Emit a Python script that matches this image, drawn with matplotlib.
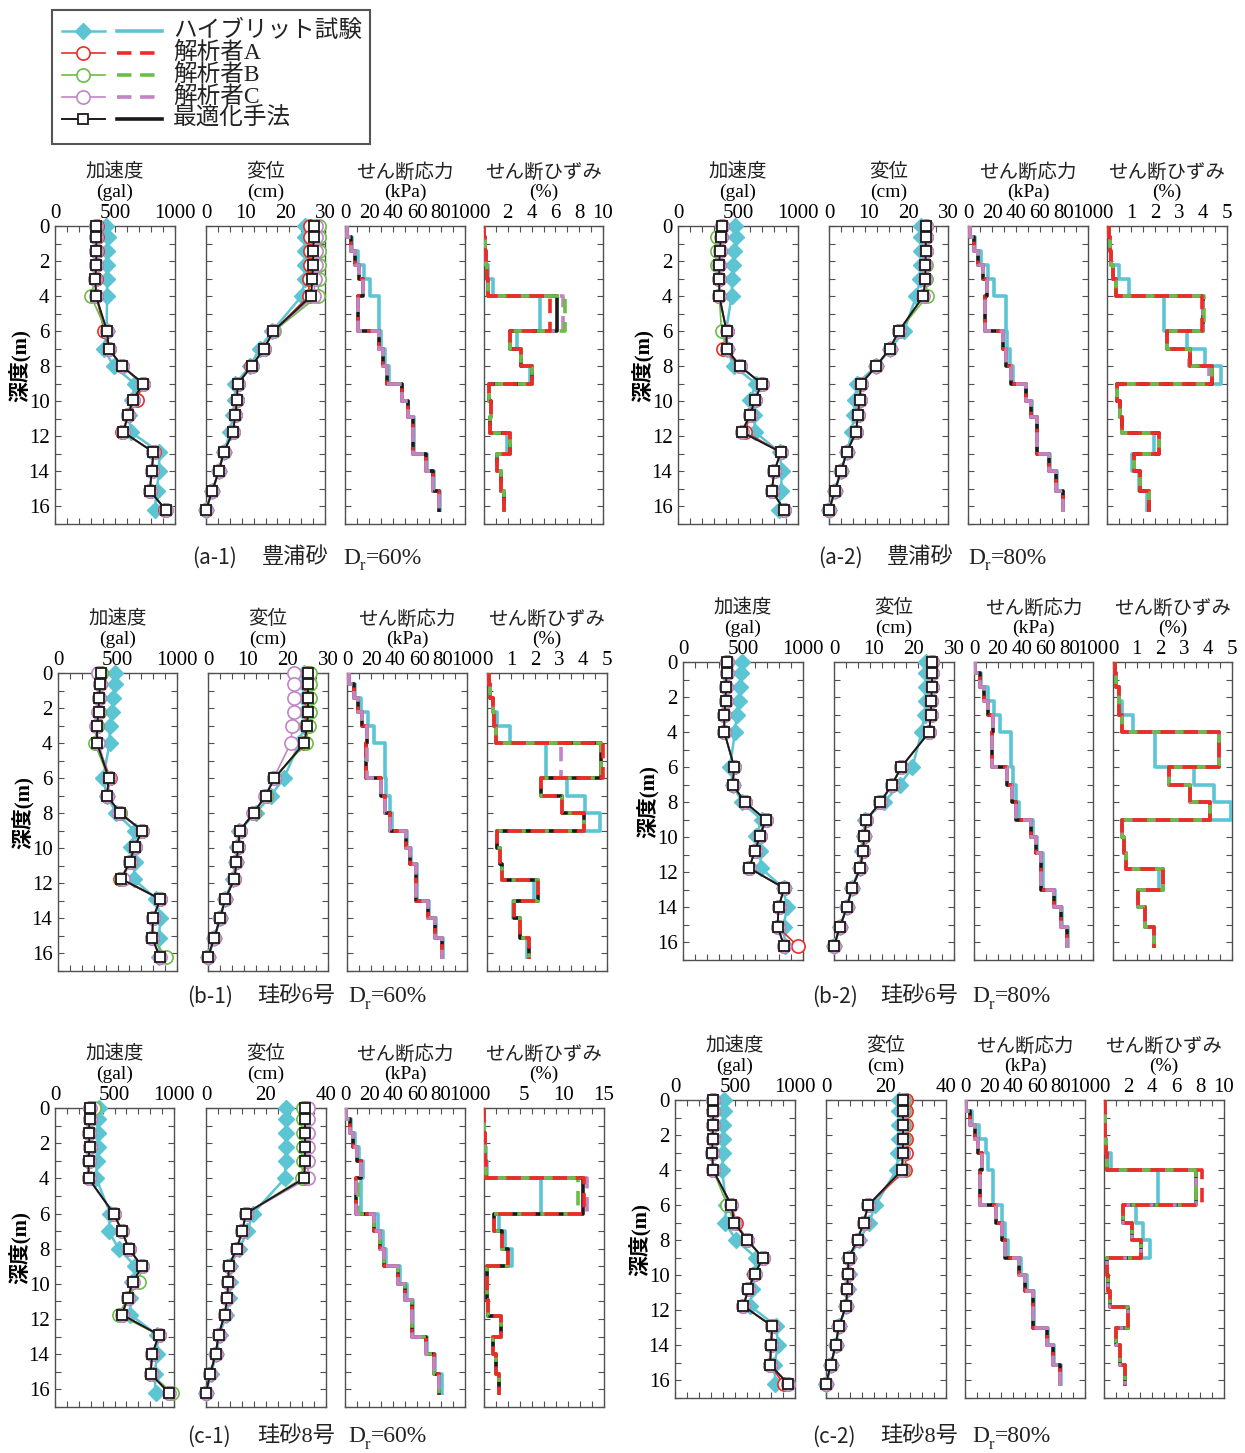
import numpy as np
import matplotlib
matplotlib.use("Agg")
import matplotlib.pyplot as plt
from matplotlib.ticker import MultipleLocator, FixedLocator, NullFormatter, FixedFormatter
from matplotlib.patches import Rectangle

SERIF = 'Liberation Serif'
JP = 'Noto Sans CJK JP'
plt.rcParams['font.family'] = [SERIF, JP]
plt.rcParams['axes.unicode_minus'] = False

W, H = 1245, 1453
fig = plt.figure(figsize=(W / 100, H / 100), dpi=100)
fig.patch.set_facecolor('white')

C_HYB = '#5cc5d3'
C_A = '#ee2b27'
C_B = '#6cbd45'
C_C = '#c185c4'
C_OPT = '#1a1a1a'
SPINE = '#505050'

# Depth of the observation points (m) and layer boundaries for the element values
DEPTH = [0, 0.6, 1.4, 2.2, 3.0, 4.0, 6.0, 7.0, 8.0, 9.0, 9.9, 10.8, 11.75, 12.9, 14.0, 15.1, 16.2]
LAYER_EDGES = [0, 0.6, 1.4, 2.2, 3.0, 4.0, 6.0, 7.0, 8.0, 9.0, 10.0, 10.9, 11.8, 13.0, 14.0, 15.1, 16.3]

# ---------------- (a-1) Toyoura sand Dr=60% ----------------
A1_ACC = dict(
    hyb=[428, 440, 434, 434, 434, 434, 430, 406, 490, 664, 644, 616, 632, 868, 868, 846, 832],
    A=[348, 348, 348, 344, 340, 344, 410, 448, 556, 730, 686, 612, 560, 822, 806, 790, 920],
    B=[344, 344, 344, 340, 336, 300, 430, 446, 560, 736, 650, 610, 568, 820, 806, 790, 924],
    C=[344, 344, 344, 344, 336, 342, 434, 448, 560, 736, 650, 610, 568, 820, 806, 790, 924],
    opt=[344, 344, 344, 344, 336, 342, 434, 448, 560, 736, 650, 610, 568, 820, 806, 790, 924])
A1_DISP = dict(
    hyb=[25.0, 25.0, 25.0, 25.0, 25.0, 24.1, 16.7, 13.5, 11.1, 7.4, 7.4, 6.8, 6.1, 4.5, 3.2, 1.6, 0.0],
    A=[26.1, 26.1, 26.1, 26.1, 26.0, 25.9, 17.0, 14.6, 11.4, 8.0, 7.8, 7.4, 6.8, 4.5, 3.2, 1.6, 0.0],
    B=[28.6, 28.6, 28.6, 28.6, 28.5, 28.2, 17.1, 14.7, 11.5, 8.0, 7.8, 7.4, 6.8, 4.5, 3.2, 1.6, 0.0],
    C=[27.8, 27.8, 27.7, 27.7, 27.5, 27.2, 17.0, 14.6, 11.5, 8.0, 7.8, 7.4, 6.8, 4.5, 3.2, 1.6, 0.0],
    opt=[27.2, 27.2, 27.0, 27.0, 26.8, 26.5, 17.0, 14.6, 11.5, 8.0, 7.8, 7.4, 6.8, 4.5, 3.2, 1.6, 0.0])
A1_STRESS = dict(
    hyb=[1.4, 5.5, 11.0, 16.0, 21.0, 28.6, 30.0, 33.0, 36.5, 47.8, 52.8, 57.5, 57.5, 68.0, 73.8, 79.0],
    A=[1.4, 4.7, 8.3, 12.0, 15.3, 10.8, 28.6, 31.4, 34.7, 47.2, 52.2, 56.9, 56.9, 67.2, 73.0, 78.3],
    B=[1.4, 4.7, 8.3, 12.0, 15.3, 10.6, 28.6, 31.4, 34.7, 47.2, 52.2, 56.9, 56.9, 67.2, 73.0, 78.3],
    C=[1.4, 4.7, 8.3, 12.0, 15.3, 10.6, 28.6, 31.4, 34.7, 47.2, 52.2, 56.9, 56.9, 67.2, 73.0, 78.3],
    opt=[1.4, 4.7, 8.3, 12.0, 15.3, 10.6, 28.6, 31.4, 34.7, 47.2, 52.2, 56.9, 56.9, 67.2, 73.0, 78.3])
A1_STRAIN = dict(
    hyb=[0.03, 0.05, 0.2, 0.36, 0.78, 4.7, 2.74, 3.07, 3.85, 0.42, 0.56, 0.5, 1.9, 1.06, 1.4, 1.68],
    A=[0.03, 0.05, 0.2, 0.22, 0.36, 5.53, 2.18, 3.07, 4.0, 0.42, 0.56, 0.5, 2.18, 1.06, 1.4, 1.68],
    B=[0.03, 0.05, 0.2, 0.22, 0.36, 6.8, 2.18, 3.07, 4.0, 0.42, 0.56, 0.5, 2.18, 1.06, 1.4, 1.68],
    C=[0.03, 0.05, 0.2, 0.22, 0.36, 6.65, 2.18, 3.07, 4.0, 0.42, 0.56, 0.5, 2.18, 1.06, 1.4, 1.68],
    opt=[0.03, 0.05, 0.2, 0.22, 0.36, 6.1, 2.18, 3.07, 4.0, 0.42, 0.56, 0.5, 2.18, 1.06, 1.4, 1.68])

# ---------------- (a-2) Toyoura sand Dr=80% ----------------
A2_ACC = dict(
    hyb=[475, 483, 469, 461, 452, 447, 400, 405, 466, 651, 600, 634, 642, 846, 866, 857, 838],
    A=[363, 358, 349, 344, 344, 344, 405, 377, 517, 698, 642, 600, 559, 857, 802, 782, 885],
    B=[363, 327, 327, 327, 344, 344, 363, 405, 517, 698, 642, 600, 531, 857, 802, 782, 885],
    C=[363, 358, 349, 344, 344, 344, 405, 405, 517, 698, 642, 600, 531, 857, 802, 782, 885],
    opt=[363, 358, 349, 344, 344, 344, 405, 405, 517, 698, 642, 600, 531, 857, 802, 782, 885])
A2_DISP = dict(
    hyb=[23.1, 23.3, 23.3, 23.1, 23.0, 22.0, 18.9, 15.5, 11.9, 7.0, 6.6, 6.2, 5.8, 4.5, 3.0, 1.5, 0.0],
    A=[24.4, 24.4, 24.4, 24.3, 24.3, 23.8, 17.6, 15.3, 11.9, 8.1, 7.7, 7.3, 6.8, 4.5, 3.0, 1.5, 0.0],
    B=[24.5, 24.5, 24.5, 24.4, 24.4, 24.8, 17.6, 15.3, 11.9, 8.1, 7.7, 7.3, 6.8, 4.5, 3.0, 1.5, 0.0],
    C=[24.4, 24.4, 24.4, 24.3, 24.3, 23.8, 17.6, 15.3, 11.9, 8.1, 7.7, 7.3, 6.8, 4.5, 3.0, 1.5, 0.0],
    opt=[24.4, 24.4, 24.4, 24.3, 24.3, 23.8, 17.6, 15.3, 11.9, 8.1, 7.7, 7.3, 6.8, 4.5, 3.0, 1.5, 0.0])
A2_STRESS = dict(
    hyb=[1.4, 5.5, 11.0, 16.8, 21.5, 31.6, 32.5, 35.0, 37.5, 48.5, 53.0, 57.5, 57.5, 68.5, 74.0, 79.5],
    A=[1.4, 4.7, 8.4, 12.6, 16.2, 14.0, 28.8, 32.0, 35.5, 48.3, 52.5, 57.3, 57.3, 67.9, 73.5, 78.8],
    B=[1.4, 4.7, 8.4, 12.6, 16.2, 14.0, 28.8, 32.0, 35.5, 48.3, 52.5, 57.3, 57.3, 67.9, 73.5, 78.8],
    C=[1.4, 4.7, 8.4, 12.6, 16.2, 14.0, 28.8, 32.0, 35.5, 48.3, 52.5, 57.3, 57.3, 67.9, 73.5, 78.8],
    opt=[1.4, 4.7, 8.4, 12.6, 16.2, 14.0, 28.8, 32.0, 35.5, 48.3, 52.5, 57.3, 57.3, 67.9, 73.5, 78.8])
A2_STRAIN = dict(
    hyb=[0.07, 0.14, 0.18, 0.49, 0.93, 2.36, 3.33, 4.1, 4.76, 0.42, 0.53, 0.63, 1.94, 1.04, 1.32, 1.67],
    A=[0.07, 0.14, 0.18, 0.25, 0.38, 3.96, 2.5, 3.46, 4.38, 0.42, 0.53, 0.63, 2.15, 1.11, 1.39, 1.74],
    B=[0.07, 0.14, 0.18, 0.25, 0.38, 4.05, 2.5, 3.46, 4.38, 0.42, 0.53, 0.63, 2.15, 1.11, 1.39, 1.74],
    C=[0.07, 0.14, 0.18, 0.25, 0.38, 4.0, 2.5, 3.4, 4.26, 0.42, 0.53, 0.63, 2.15, 1.11, 1.39, 1.74],
    opt=[0.07, 0.14, 0.18, 0.25, 0.38, 4.0, 2.5, 3.46, 4.38, 0.42, 0.53, 0.63, 2.15, 1.11, 1.39, 1.74])

# ---------------- (b-1) Silica sand No.6 Dr=60% ----------------
B1_ACC = dict(
    hyb=[476, 476, 462, 456, 434, 434, 378, 412, 490, 644, 616, 644, 636, 826, 860, 848, 848],
    A=[364, 356, 344, 342, 328, 328, 440, 412, 524, 708, 644, 602, 524, 860, 798, 792, 854],
    B=[364, 356, 344, 342, 328, 308, 426, 412, 524, 708, 644, 602, 532, 860, 798, 792, 910],
    C=[336, 356, 344, 336, 322, 340, 426, 412, 510, 708, 644, 602, 546, 860, 798, 792, 854],
    opt=[364, 356, 344, 342, 328, 328, 426, 412, 524, 708, 644, 602, 532, 860, 798, 792, 854])
B1_DISP = dict(
    hyb=[24.1, 24.1, 24.1, 24.1, 24.0, 22.8, 19.0, 15.7, 11.9, 7.8, 7.3, 6.9, 6.3, 4.3, 3.0, 1.6, 0.0],
    A=[25.0, 25.0, 25.0, 25.0, 24.8, 24.1, 16.6, 14.4, 11.4, 7.9, 7.6, 7.1, 6.6, 4.3, 3.0, 1.6, 0.0],
    B=[25.4, 25.4, 25.4, 25.4, 25.2, 24.5, 16.6, 14.4, 11.4, 7.9, 7.6, 7.1, 6.6, 4.3, 3.0, 1.6, 0.0],
    C=[21.4, 21.4, 21.4, 21.4, 21.1, 20.7, 16.4, 14.3, 11.3, 7.9, 7.6, 7.1, 6.6, 4.3, 3.0, 1.6, 0.0],
    opt=[25.0, 25.0, 25.0, 25.0, 24.8, 24.1, 16.6, 14.4, 11.4, 7.9, 7.6, 7.1, 6.6, 4.3, 3.0, 1.6, 0.0])
B1_STRESS = dict(
    hyb=[1.4, 6.5, 12.0, 17.5, 22.2, 31.4, 32.8, 35.6, 37.8, 50.0, 53.6, 58.3, 58.3, 68.3, 74.4, 80.0],
    A=[1.4, 5.6, 9.2, 12.8, 16.7, 15.6, 28.6, 31.9, 35.6, 48.9, 52.8, 57.2, 57.2, 67.5, 73.0, 79.4],
    B=[1.4, 5.6, 9.2, 12.8, 16.7, 15.6, 28.6, 31.9, 35.6, 48.9, 52.8, 57.2, 57.2, 67.5, 73.0, 79.4],
    C=[1.4, 5.6, 9.2, 12.8, 16.7, 16.7, 28.6, 31.9, 35.6, 48.9, 52.8, 57.2, 57.2, 67.5, 73.0, 79.4],
    opt=[1.4, 5.6, 9.2, 12.8, 16.7, 15.6, 28.6, 31.9, 35.6, 48.9, 52.8, 57.2, 57.2, 67.5, 73.0, 79.4])
B1_STRAIN = dict(
    hyb=[0.07, 0.14, 0.24, 0.42, 0.94, 2.46, 3.33, 4.07, 4.69, 0.42, 0.53, 0.63, 1.94, 1.08, 1.39, 1.65],
    A=[0.07, 0.14, 0.24, 0.28, 0.39, 4.83, 2.25, 3.13, 4.03, 0.42, 0.53, 0.63, 2.11, 1.11, 1.39, 1.74],
    B=[0.07, 0.14, 0.24, 0.28, 0.39, 4.75, 2.25, 3.13, 4.03, 0.42, 0.53, 0.63, 2.11, 1.11, 1.39, 1.74],
    C=[0.07, 0.14, 0.24, 0.28, 0.39, 3.08, 2.25, 3.13, 4.03, 0.42, 0.53, 0.63, 2.11, 1.11, 1.39, 1.74],
    opt=[0.07, 0.14, 0.24, 0.28, 0.39, 4.76, 2.25, 3.13, 4.03, 0.42, 0.53, 0.63, 2.11, 1.11, 1.39, 1.74])

# ---------------- (b-2) Silica sand No.6 Dr=80% ----------------
B2_ACC = dict(
    hyb=[489, 480, 475, 466, 447, 433, 391, 419, 489, 656, 609, 642, 648, 838, 866, 838, 852],
    A=[363, 363, 358, 355, 344, 344, 427, 413, 517, 690, 642, 600, 550, 843, 796, 788, 955],
    B=[363, 363, 358, 355, 344, 344, 427, 413, 517, 690, 642, 600, 550, 843, 796, 788, 843],
    C=[363, 363, 358, 355, 344, 344, 427, 413, 517, 690, 642, 600, 550, 843, 796, 788, 843],
    opt=[363, 363, 358, 355, 344, 344, 427, 413, 517, 690, 642, 600, 550, 843, 796, 788, 843])
B2_DISP = dict(
    hyb=[22.9, 22.9, 22.9, 22.9, 22.7, 21.9, 19.6, 16.5, 12.4, 7.8, 7.4, 7.0, 6.4, 4.5, 3.2, 1.5, 0.0],
    A=[24.5, 24.5, 24.5, 24.3, 24.2, 23.8, 16.8, 14.5, 11.6, 8.1, 7.6, 7.2, 6.6, 4.5, 3.2, 1.5, 0.0],
    B=[24.5, 24.5, 24.5, 24.3, 24.2, 23.8, 16.8, 14.5, 11.6, 8.1, 7.6, 7.2, 6.6, 4.5, 3.2, 1.5, 0.0],
    C=[24.5, 24.5, 24.5, 24.3, 24.2, 23.8, 16.8, 14.5, 11.6, 8.1, 7.6, 7.2, 6.6, 4.5, 3.2, 1.5, 0.0],
    opt=[24.5, 24.5, 24.5, 24.3, 24.2, 23.8, 16.8, 14.5, 11.6, 8.1, 7.6, 7.2, 6.6, 4.5, 3.2, 1.5, 0.0])
B2_STRESS = dict(
    hyb=[0.8, 5.8, 11.5, 16.5, 21.5, 30.7, 32.4, 35.5, 37.7, 49.4, 53.0, 57.8, 57.8, 68.2, 74.0, 79.3],
    A=[0.8, 5.0, 8.4, 12.0, 15.6, 14.8, 27.9, 31.6, 34.9, 47.8, 51.7, 56.7, 56.7, 67.0, 72.9, 78.5],
    B=[0.8, 5.0, 8.4, 12.0, 15.6, 14.8, 27.9, 31.6, 34.9, 47.8, 51.7, 56.7, 56.7, 67.0, 72.9, 78.5],
    C=[0.8, 5.0, 8.4, 12.0, 15.6, 14.8, 27.9, 31.6, 34.9, 47.8, 51.7, 56.7, 56.7, 67.0, 72.9, 78.5],
    opt=[0.8, 5.0, 8.4, 12.0, 15.6, 14.8, 27.9, 31.6, 34.9, 47.8, 51.7, 56.7, 56.7, 67.0, 72.9, 78.5])
B2_STRAIN = dict(
    hyb=[0.07, 0.14, 0.24, 0.38, 0.84, 1.75, 3.39, 4.23, 4.97, 0.38, 0.45, 0.56, 1.95, 1.05, 1.36, 1.71],
    A=[0.07, 0.14, 0.24, 0.27, 0.38, 4.47, 2.34, 3.25, 4.09, 0.38, 0.45, 0.56, 2.09, 1.05, 1.36, 1.71],
    B=[0.07, 0.14, 0.24, 0.27, 0.38, 4.47, 2.34, 3.25, 4.09, 0.38, 0.45, 0.56, 2.09, 1.05, 1.36, 1.71],
    C=[0.07, 0.14, 0.24, 0.27, 0.38, 4.47, 2.34, 3.25, 4.09, 0.38, 0.45, 0.56, 2.09, 1.05, 1.36, 1.71],
    opt=[0.07, 0.14, 0.24, 0.27, 0.38, 4.47, 2.34, 3.25, 4.09, 0.38, 0.45, 0.56, 2.09, 1.05, 1.36, 1.71])

# ---------------- (c-1) Silica sand No.8 Dr=60% ----------------
C1_ACC = dict(
    hyb=[366, 358, 358, 358, 352, 346, 465, 451, 535, 676, 648, 628, 634, 859, 859, 837, 845],
    A=[296, 290, 285, 290, 282, 282, 493, 563, 620, 732, 654, 611, 563, 873, 817, 803, 958],
    B=[330, 290, 285, 290, 282, 282, 493, 563, 620, 732, 704, 611, 535, 873, 817, 803, 986],
    C=[296, 290, 285, 290, 282, 282, 493, 563, 620, 732, 654, 611, 563, 873, 817, 803, 958],
    opt=[296, 290, 285, 290, 282, 282, 493, 563, 620, 732, 654, 611, 563, 873, 817, 803, 958])
C1_DISP = dict(
    hyb=[26.5, 26.5, 26.5, 26.5, 26.5, 26.3, 15.6, 13.8, 11.1, 7.9, 7.9, 7.7, 6.8, 4.5, 3.4, 1.7, 0.0],
    A=[33.0, 33.0, 33.0, 33.0, 33.0, 32.7, 13.3, 12.1, 10.2, 7.6, 7.4, 7.1, 6.2, 4.2, 3.2, 1.4, 0.0],
    B=[32.2, 32.2, 32.2, 32.2, 32.2, 32.0, 13.3, 12.1, 10.2, 7.6, 7.4, 7.1, 6.2, 4.2, 3.2, 1.4, 0.0],
    C=[34.1, 34.1, 34.1, 34.1, 34.1, 33.9, 13.3, 12.1, 10.2, 7.6, 7.4, 7.1, 6.2, 4.2, 3.2, 1.4, 0.0],
    opt=[33.0, 33.0, 33.0, 33.0, 33.0, 32.7, 13.3, 12.1, 10.2, 7.6, 7.4, 7.1, 6.2, 4.2, 3.2, 1.4, 0.0])
C1_STRESS = dict(
    hyb=[0.6, 4.7, 8.3, 12.0, 15.3, 13.0, 27.2, 31.4, 34.2, 45.8, 51.4, 56.4, 56.4, 68.0, 75.0, 80.6],
    A=[0.6, 4.2, 6.9, 9.7, 13.0, 9.2, 24.2, 29.2, 32.8, 44.4, 50.0, 55.6, 55.6, 67.2, 74.2, 78.6],
    B=[0.6, 4.2, 6.9, 9.7, 13.0, 11.1, 24.2, 29.2, 32.8, 44.4, 50.0, 55.6, 55.6, 67.2, 74.2, 78.6],
    C=[0.6, 4.2, 6.9, 9.7, 13.0, 9.2, 24.2, 29.2, 32.8, 44.4, 50.0, 55.6, 55.6, 67.2, 74.2, 78.6],
    opt=[0.6, 4.2, 6.9, 9.7, 13.0, 9.2, 24.2, 29.2, 32.8, 44.4, 50.0, 55.6, 55.6, 67.2, 74.2, 78.6])
C1_STRAIN = dict(
    hyb=[0.04, 0.04, 0.12, 0.2, 0.42, 7.1, 1.9, 2.6, 3.46, 0.33, 0.42, 0.54, 2.08, 1.17, 1.46, 1.88],
    A=[0.04, 0.04, 0.12, 0.12, 0.25, 12.5, 1.25, 2.2, 3.04, 0.33, 0.42, 0.54, 2.08, 1.17, 1.46, 1.88],
    B=[0.04, 0.04, 0.12, 0.12, 0.25, 11.7, 1.25, 2.2, 3.04, 0.33, 0.42, 0.54, 2.08, 1.17, 1.46, 1.88],
    C=[0.04, 0.04, 0.12, 0.12, 0.25, 12.9, 1.25, 2.2, 3.04, 0.33, 0.42, 0.54, 2.08, 1.17, 1.46, 1.88],
    opt=[0.04, 0.04, 0.12, 0.12, 0.25, 12.4, 1.25, 2.2, 3.04, 0.33, 0.42, 0.54, 2.08, 1.17, 1.46, 1.88])

# ---------------- (c-2) Silica sand No.8 Dr=80% ----------------
C2_ACC = dict(
    hyb=[410, 410, 403, 403, 400, 393, 427, 417, 510, 677, 660, 643, 627, 843, 860, 827, 837],
    A=[320, 320, 317, 313, 310, 317, 470, 510, 603, 733, 660, 610, 570, 810, 800, 793, 905],
    B=[320, 320, 317, 313, 310, 317, 437, 493, 603, 733, 667, 610, 570, 810, 800, 793, 943],
    C=[320, 320, 317, 313, 310, 317, 470, 493, 603, 733, 667, 610, 570, 810, 800, 793, 943],
    opt=[320, 320, 317, 313, 310, 317, 470, 493, 603, 733, 667, 610, 570, 810, 800, 793, 943])
C2_DISP = dict(
    hyb=[24.4, 24.4, 24.4, 24.4, 24.1, 23.5, 16.4, 14.4, 11.1, 7.7, 7.5, 7.2, 6.8, 4.4, 3.2, 1.7, 0.1],
    A=[26.8, 26.8, 26.8, 26.8, 26.7, 26.4, 14.1, 12.5, 10.5, 7.5, 7.3, 7.1, 6.7, 4.3, 3.2, 1.6, 0.0],
    B=[25.9, 25.9, 25.9, 25.9, 25.8, 25.5, 14.1, 12.5, 10.5, 7.5, 7.3, 7.1, 6.7, 4.3, 3.2, 1.6, 0.0],
    C=[25.7, 25.7, 25.7, 25.7, 25.6, 25.3, 14.1, 12.5, 10.5, 7.5, 7.3, 7.1, 6.7, 4.3, 3.2, 1.6, 0.0],
    opt=[25.7, 25.7, 25.7, 25.7, 25.6, 25.3, 14.1, 12.5, 10.5, 7.5, 7.3, 7.1, 6.7, 4.3, 3.2, 1.6, 0.0])
C2_STRESS = dict(
    hyb=[1.0, 5.5, 12.0, 17.5, 19.0, 23.5, 30.5, 33.5, 36.0, 46.5, 52.0, 57.5, 57.5, 69.0, 74.5, 80.0],
    A=[1.0, 4.4, 8.7, 11.0, 14.4, 12.8, 25.5, 31.2, 33.6, 44.6, 50.3, 56.4, 57.0, 68.1, 73.2, 78.9],
    B=[1.0, 4.4, 8.7, 11.0, 14.4, 12.8, 25.5, 31.2, 33.6, 44.6, 50.3, 56.4, 57.0, 68.1, 73.2, 78.9],
    C=[1.0, 4.4, 8.7, 11.0, 14.4, 12.8, 25.5, 31.2, 33.6, 44.6, 50.3, 56.4, 57.0, 68.1, 73.2, 78.9],
    opt=[1.0, 4.4, 8.7, 11.0, 14.4, 12.8, 25.5, 31.2, 33.6, 44.6, 50.3, 56.4, 57.0, 68.1, 73.2, 78.9])
C2_STRAIN = dict(
    hyb=[0.07, 0.1, 0.12, 0.17, 0.57, 4.5, 2.68, 3.25, 3.86, 0.23, 0.37, 0.5, 2.0, 1.0, 1.34, 1.78],
    A=[0.07, 0.1, 0.12, 0.17, 0.23, 8.2, 1.58, 2.35, 3.12, 0.23, 0.37, 0.5, 2.0, 1.0, 1.34, 1.78],
    B=[0.07, 0.1, 0.12, 0.17, 0.23, 7.7, 1.58, 2.35, 3.12, 0.23, 0.37, 0.5, 2.0, 1.0, 1.34, 1.78],
    C=[0.07, 0.1, 0.12, 0.17, 0.23, 7.65, 1.58, 2.35, 3.12, 0.23, 0.37, 0.5, 2.0, 1.0, 1.34, 1.78],
    opt=[0.07, 0.1, 0.12, 0.17, 0.23, 7.65, 1.58, 2.35, 3.12, 0.23, 0.37, 0.5, 2.0, 1.0, 1.34, 1.78])

# Panel layout: caption, data, axis boxes in pixels (left, right), top/bottom, disp/strain ranges
PANELS = [
    dict(tag='(a-1)', soil='豊浦砂', dr='60%', data=(A1_ACC, A1_DISP, A1_STRESS, A1_STRAIN),
         cols=[(55, 175), (206, 325), (345, 465), (484, 603)], top=226, bottom=524,
         disp=(30, [0, 10, 20, 30]), strain=(10, [0, 2, 4, 6, 8, 10]),
         cap=(192, 262, 343, 558)),
    dict(tag='(a-2)', soil='豊浦砂', dr='80%', data=(A2_ACC, A2_DISP, A2_STRESS, A2_STRAIN),
         cols=[(678, 798), (829, 948), (968, 1088), (1107, 1227)], top=226, bottom=524,
         disp=(30, [0, 10, 20, 30]), strain=(5, [0, 1, 2, 3, 4, 5]),
         cap=(818, 887, 968, 558)),
    dict(tag='(b-1)', soil='珪砂6号', dr='60%', data=(B1_ACC, B1_DISP, B1_STRESS, B1_STRAIN),
         cols=[(58, 177), (208, 328), (347, 467), (487, 607)], top=673, bottom=971,
         disp=(30, [0, 10, 20, 30]), strain=(5, [0, 1, 2, 3, 4, 5]),
         cap=(187, 257, 348, 997)),
    dict(tag='(b-2)', soil='珪砂6号', dr='80%', data=(B2_ACC, B2_DISP, B2_STRESS, B2_STRAIN),
         cols=[(683, 803), (834, 954), (974, 1093), (1113, 1232)], top=662, bottom=960,
         disp=(30, [0, 10, 20, 30]), strain=(5, [0, 1, 2, 3, 4, 5]),
         cap=(812, 880, 972, 997)),
    dict(tag='(c-1)', soil='珪砂8号', dr='60%', data=(C1_ACC, C1_DISP, C1_STRESS, C1_STRAIN),
         cols=[(55, 174), (206, 326), (345, 465), (484, 604)], top=1108, bottom=1407,
         disp=(40, [0, 20, 40]), strain=(15, [0, 5, 10, 15]),
         cap=(187, 257, 348, 1437)),
    dict(tag='(c-2)', soil='珪砂8号', dr='80%', data=(C2_ACC, C2_DISP, C2_STRESS, C2_STRAIN),
         cols=[(675, 795), (826, 946), (965, 1085), (1104, 1224)], top=1100, bottom=1398,
         disp=(40, [0, 20, 40]), strain=(10, [0, 2, 4, 6, 8, 10]),
         cap=(812, 880, 972, 1437)),
]

TITLES = [('加速度', '(gal)'), ('変位', '(cm)'), ('せん断応力', '(kPa)'), ('せん断ひずみ', '(%)')]

POINT_STYLE = {
    'hyb': dict(color=C_HYB, lw=1.8, marker='D', ms=8.5, mfc=C_HYB, mec=C_HYB, zorder=3),
    'A': dict(color=C_A, lw=1.2, marker='o', ms=9.5, mfc='white', mec=C_A, mew=1.2, zorder=4),
    'B': dict(color=C_B, lw=1.2, marker='o', ms=9.5, mfc='white', mec=C_B, mew=1.2, zorder=5),
    'C': dict(color=C_C, lw=1.2, marker='o', ms=9.5, mfc='white', mec=C_C, mew=1.2, zorder=6),
    'opt': dict(color=C_OPT, lw=1.4, marker='s', ms=6.8, mfc='white', mec=C_OPT, mew=1.3, zorder=7),
}
LW_STEP = 2.6
DASH = (4, 2.4)
# dash phase per series and per quantity (which analyst ends up on top)
STRESS_STYLE = {
    'hyb': dict(color=C_HYB, lw=LW_STEP, ls='-'),
    'opt': dict(color=C_OPT, lw=LW_STEP, ls='-'),
    'A': dict(color=C_A, lw=LW_STEP, ls=(1.0, DASH)),
    'B': dict(color=C_B, lw=LW_STEP, ls=(0, DASH)),
    'C': dict(color=C_C, lw=LW_STEP, ls=(0, DASH)),
}
STRAIN_STYLE = {
    'hyb': dict(color=C_HYB, lw=LW_STEP, ls='-'),
    'opt': dict(color=C_OPT, lw=LW_STEP, ls='-'),
    'A': dict(color=C_A, lw=LW_STEP, ls=(0, DASH)),
    'B': dict(color=C_B, lw=LW_STEP, ls=(2.2, DASH)),
    'C': dict(color=C_C, lw=LW_STEP, ls=(4.4, DASH)),
}
STRESS_ORDER = ['hyb', 'opt', 'B', 'A', 'C']
STRAIN_ORDER = ['hyb', 'opt', 'C', 'B', 'A']


def px_box(left, right, top, bottom):
    return [left / W, 1 - bottom / H, (right - left) / W, (bottom - top) / H]


def fmt(v):
    return str(int(v)) if float(v).is_integer() else str(v)


def setup_axis(ax, xmax, labels, show_depth):
    ax.set_xlim(0, xmax)
    ax.set_ylim(17, 0)
    for sp in ax.spines.values():
        sp.set_color(SPINE)
        sp.set_linewidth(1.0)
    ax.xaxis.remove_overlapping_locs = False
    ax.xaxis.set_major_locator(MultipleLocator(xmax / 10))
    ax.xaxis.set_major_formatter(NullFormatter())
    ax.xaxis.set_minor_locator(FixedLocator(labels))
    ax.xaxis.set_minor_formatter(FixedFormatter([fmt(v) for v in labels]))
    ax.tick_params(axis='x', which='major', direction='in', length=4.5, width=0.8,
                   color=SPINE, top=True, bottom=True, labeltop=False, labelbottom=False)
    ax.tick_params(axis='x', which='minor', length=0, top=True, bottom=False,
                   labeltop=True, labelbottom=False, labelsize=15, pad=2)
    ax.yaxis.set_major_locator(MultipleLocator(2))
    ax.yaxis.set_minor_locator(MultipleLocator(1))
    ax.tick_params(axis='y', which='both', direction='in', length=4.5, width=0.8,
                   color=SPINE, left=True, right=True, labelleft=show_depth,
                   labelright=False, labelsize=15, pad=4)


def step_xy(vals):
    x = np.repeat(np.asarray(vals, float), 2)
    e = np.asarray(LAYER_EDGES, float)
    y = np.column_stack([e[:-1], e[1:]]).ravel()
    return x, y


for p in PANELS:
    acc, disp, stress, strain = p['data']
    ranges = [(1000, [0, 500, 1000]), p['disp'], (100, [0, 20, 40, 60, 80, 100]), p['strain']]
    axes = []
    for i, (l, r) in enumerate(p['cols']):
        ax = fig.add_axes(px_box(l, r, p['top'], p['bottom']))
        setup_axis(ax, ranges[i][0], ranges[i][1], i == 0)
        t, u = TITLES[i]
        ax.annotate(t, xy=(0.5, 1), xycoords='axes fraction', xytext=(0, 39),
                    textcoords='offset points', ha='center', va='center', fontsize=14,
                    family=JP, color='#222222')
        ax.annotate(u, xy=(0.5, 1), xycoords='axes fraction', xytext=(0, 24.5),
                    textcoords='offset points', ha='center', va='center', fontsize=14)
        axes.append(ax)

    # profiles with points
    for ax, series in ((axes[0], acc), (axes[1], disp)):
        for key in ['hyb', 'A', 'B', 'C', 'opt']:
            ax.plot(series[key], DEPTH, clip_on=False, **POINT_STYLE[key])

    # element values as step profiles
    for ax, series, order, styles in ((axes[2], stress, STRESS_ORDER, STRESS_STYLE),
                                      (axes[3], strain, STRAIN_ORDER, STRAIN_STYLE)):
        for z, key in enumerate(order):
            x, y = step_xy(series[key])
            ax.plot(x, y, zorder=3 + z, solid_capstyle='butt', dash_capstyle='butt',
                    **styles[key])

    axes[0].annotate('深度(m)', xy=(0, 0.5), xycoords='axes fraction', xytext=(-25, 7),
                     textcoords='offset points', ha='center', va='center', rotation=90,
                     fontsize=15, fontweight='bold')

# Overlay in pixel coordinates for the legend box and the captions
lax = fig.add_axes([0, 0, 1, 1])
lax.set_xlim(0, W)
lax.set_ylim(H, 0)
lax.axis('off')
lax.patch.set_visible(False)

for p in PANELS:
    x_tag, x_soil, x_d, yc = p['cap']
    lax.text(x_tag, yc, p['tag'], family=JP, fontsize=15, ha='left', va='center', color='#222222')
    lax.text(x_soil, yc, p['soil'], family=[SERIF, JP], fontsize=16, ha='left', va='center',
             color='#222222')
    tD = lax.text(x_d, yc, 'D', fontsize=17, ha='left', va='center', color='#222222')
    tr = lax.annotate('r', xy=(1.0, 0.12), xycoords=tD, fontsize=12, ha='left', va='center',
                      color='#222222')
    lax.annotate('=' + p['dr'], xy=(1.0, 0.5), xycoords=(tr, tD), fontsize=17, ha='left',
                 va='center', color='#222222')

# Legend
lax.add_patch(Rectangle((52, 10), 318, 134, fill=False, edgecolor='#555555', lw=1.5))
LEG = [('hyb', 'ハイブリット試験'), ('A', '解析者A'), ('B', '解析者B'), ('C', '解析者C'),
       ('opt', '最適化手法')]
for k, (key, label) in enumerate(LEG):
    y = 31 + 22 * k
    st = dict(POINT_STYLE[key])
    lax.plot([62, 105], [y, y], color=st['color'], lw=st['lw'])
    lax.plot([83], [y], ls='none', marker=st['marker'], ms=st['ms'], mfc=st['mfc'],
             mec=st['mec'], mew=st.get('mew', 1.0))
    ss = STRAIN_STYLE[key]
    lax.plot([117, 162], [y, y], color=ss['color'], lw=ss['lw'],
             ls=(0, DASH) if key in ('A', 'B', 'C') else '-', dash_capstyle='butt')
    lax.text(173, y, label, fontsize=17, ha='left', va='center', color='#222222')

fig.savefig('out.png', dpi=100, facecolor='white')
